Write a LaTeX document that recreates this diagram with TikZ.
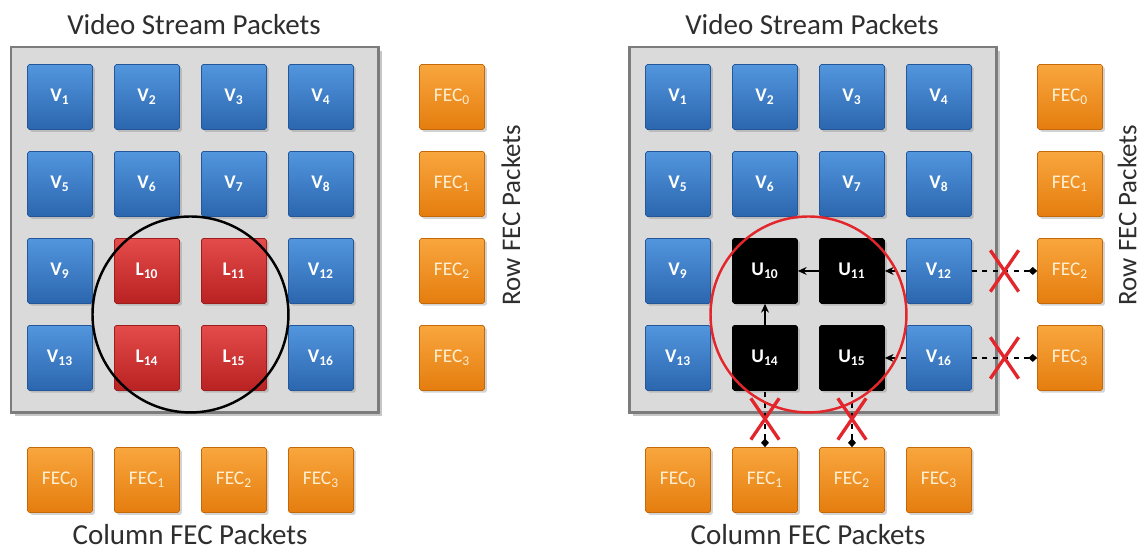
\documentclass[tikz,border=0pt]{standalone}
\usepackage{fontspec}
\setmainfont{Carlito}
\usepackage{tikz}
\usetikzlibrary{arrows.meta,positioning,shadows,shapes.misc,calc}

\definecolor{vidtop}{HTML}{5296DE}
\definecolor{vidbot}{HTML}{2B66AE}
\definecolor{videdge}{HTML}{24579A}
\definecolor{losstop}{HTML}{E44B4B}
\definecolor{lossbot}{HTML}{B92222}
\definecolor{lossedge}{HTML}{9E1D1D}
\definecolor{fectop}{HTML}{F8A63E}
\definecolor{fecbot}{HTML}{E57D0E}
\definecolor{fecedge}{HTML}{C46808}
\definecolor{fectext}{HTML}{FFEFD2}
\definecolor{framefill}{HTML}{DADADA}
\definecolor{frameedge}{HTML}{7C7C7C}
\definecolor{captext}{HTML}{2E2E2E}
\definecolor{failred}{HTML}{E3262B}

\tikzset{
node distance=1.74cm, % centre to centre spacing of the packet grid
packet/.style={minimum size=1.3cm, inner sep=0pt, rounded corners=1pt, text=white,
  font=\fontsize{11}{13}\selectfont\bfseries,
  drop shadow={shadow xshift=1.3pt, shadow yshift=-1.3pt, opacity=0.35}},
video/.style={packet, top color=vidtop, bottom color=vidbot, draw=videdge},
lossy/.style={packet, top color=losstop, bottom color=lossbot, draw=lossedge},
unrec/.style={packet, fill=black, draw=black},
fec/.style={packet, top color=fectop, bottom color=fecbot, draw=fecedge, text=fectext,
  font=\fontsize{11}{13}\selectfont},
frame/.style={fill=framefill, draw=frameedge, line width=1.7pt,
  drop shadow={shadow xshift=2pt, shadow yshift=-2pt, opacity=0.45}},
caption/.style={font=\fontsize{16.5}{19}\selectfont, text=captext, inner sep=1pt},
sidecap/.style={caption, rotate=90, font=\fontsize{15.3}{18}\selectfont},
ring/.style={circle, minimum size=3.92cm, line width=1.4pt},
link/.style={dashed, line width=0.8pt, -{Stealth[length=5pt,width=4.5pt]}},
blocked/.style={dashed, line width=0.8pt, {Diamond[length=5pt,width=4.5pt]}-},
fail/.style={solid, cross out, draw=failred, line width=1.9pt, minimum width=0.5cm,
  minimum height=0.76cm, inner sep=0pt},
}

\begin{document}
\begin{tikzpicture}[x=0.02cm, y=-0.02cm]
		\useasboundingbox (0,0) rectangle (1141,551);

		% the two packet matrices
		\draw[frame] (11,47) rectangle (378,412);
		\draw[frame] (629,47) rectangle (996,412);

		% left: lost packets
		\node[video] (lv1) at (60,97) {V\textsubscript{1}};
		\node[video, right of=lv1] (lv2) {V\textsubscript{2}};
		\node[video, right of=lv2] (lv3) {V\textsubscript{3}};
		\node[video, right of=lv3] (lv4) {V\textsubscript{4}};
		\node[video, below of=lv1] (lv5) {V\textsubscript{5}};
		\node[video, right of=lv5] (lv6) {V\textsubscript{6}};
		\node[video, right of=lv6] (lv7) {V\textsubscript{7}};
		\node[video, right of=lv7] (lv8) {V\textsubscript{8}};
		\node[video, below of=lv5] (lv9) {V\textsubscript{9}};
		\node[lossy, right of=lv9] (ll10) {L\textsubscript{10}};
		\node[lossy, right of=ll10] (ll11) {L\textsubscript{11}};
		\node[video, right of=ll11] (lv12) {V\textsubscript{12}};
		\node[video, below of=lv9] (lv13) {V\textsubscript{13}};
		\node[lossy, right of=lv13] (ll14) {L\textsubscript{14}};
		\node[lossy, right of=ll14] (ll15) {L\textsubscript{15}};
		\node[video, right of=ll15] (lv16) {V\textsubscript{16}};

		\node[fec] (lrow0) at (452,97) {FEC\textsubscript{0}};
		\node[fec, below of=lrow0] (lrow1) {FEC\textsubscript{1}};
		\node[fec, below of=lrow1] (lrow2) {FEC\textsubscript{2}};
		\node[fec, below of=lrow2] (lrow3) {FEC\textsubscript{3}};

		\node[fec] (lcol0) at (60,480) {FEC\textsubscript{0}};
		\node[fec, right of=lcol0] (lcol1) {FEC\textsubscript{1}};
		\node[fec, right of=lcol1] (lcol2) {FEC\textsubscript{2}};
		\node[fec, right of=lcol2] (lcol3) {FEC\textsubscript{3}};

		\node[ring, draw=black] (lring) at ($(ll10)!0.5!(ll15)$) {};

		\node[caption] (ltitle) at (194,25) {Video Stream Packets};
		\node[sidecap] (lrowcap) at (511,215) {Row FEC Packets};
		\node[caption] (lcolcap) at (190,535) {Column FEC Packets};

		% right: unrecoverable packets
		\node[video] (rv1) at (678,97) {V\textsubscript{1}};
		\node[video, right of=rv1] (rv2) {V\textsubscript{2}};
		\node[video, right of=rv2] (rv3) {V\textsubscript{3}};
		\node[video, right of=rv3] (rv4) {V\textsubscript{4}};
		\node[video, below of=rv1] (rv5) {V\textsubscript{5}};
		\node[video, right of=rv5] (rv6) {V\textsubscript{6}};
		\node[video, right of=rv6] (rv7) {V\textsubscript{7}};
		\node[video, right of=rv7] (rv8) {V\textsubscript{8}};
		\node[video, below of=rv5] (rv9) {V\textsubscript{9}};
		\node[unrec, right of=rv9] (ru10) {U\textsubscript{10}};
		\node[unrec, right of=ru10] (ru11) {U\textsubscript{11}};
		\node[video, right of=ru11] (rv12) {V\textsubscript{12}};
		\node[video, below of=rv9] (rv13) {V\textsubscript{13}};
		\node[unrec, right of=rv13] (ru14) {U\textsubscript{14}};
		\node[unrec, right of=ru14] (ru15) {U\textsubscript{15}};
		\node[video, right of=ru15] (rv16) {V\textsubscript{16}};

		\node[fec] (rrow0) at (1070,97) {FEC\textsubscript{0}};
		\node[fec, below of=rrow0] (rrow1) {FEC\textsubscript{1}};
		\node[fec, below of=rrow1] (rrow2) {FEC\textsubscript{2}};
		\node[fec, below of=rrow2] (rrow3) {FEC\textsubscript{3}};

		\node[fec] (rcol0) at (678,480) {FEC\textsubscript{0}};
		\node[fec, right of=rcol0] (rcol1) {FEC\textsubscript{1}};
		\node[fec, right of=rcol1] (rcol2) {FEC\textsubscript{2}};
		\node[fec, right of=rcol2] (rcol3) {FEC\textsubscript{3}};

		\draw[link] (rv12) -- (ru11);
		\draw[link] (rv16) -- (ru15);
		\draw[link, solid] (ru11) -- (ru10);
		\draw[link, solid] (ru14) -- (ru10);

		\draw[blocked] (rrow2) -- (rv12) node[fail, midway] {};
		\draw[blocked] (rrow3) -- (rv16) node[fail, midway] {};
		\draw[blocked] (rcol1) -- (ru14) node[fail, midway] {};
		\draw[blocked] (rcol2) -- (ru15) node[fail, midway] {};

		\node[ring, draw=failred] (rring) at ($(ru10)!0.5!(ru15)$) {};

		\node[caption] (rtitle) at (812,25) {Video Stream Packets};
		\node[sidecap] (rrowcap) at (1127,215) {Row FEC Packets};
		\node[caption] (rcolcap) at (808,535) {Column FEC Packets};
	\end{tikzpicture}
\end{document}
